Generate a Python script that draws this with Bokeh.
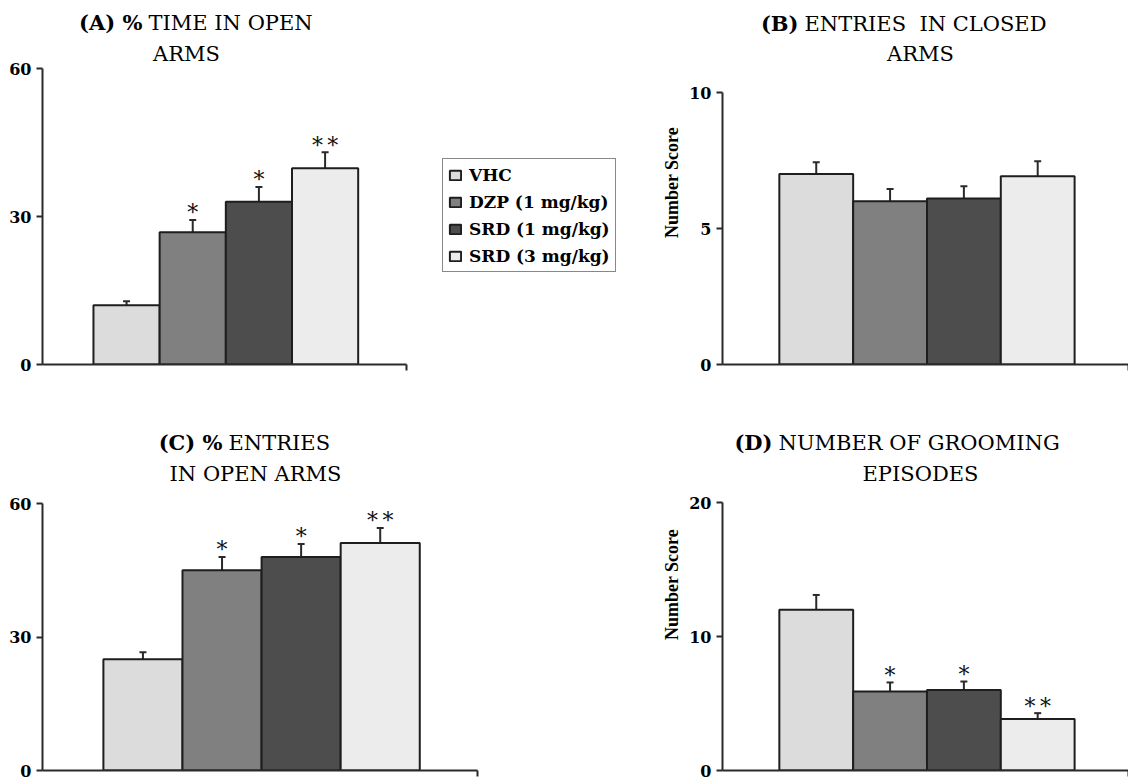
from bokeh.plotting import figure
from bokeh.models import ColumnDataSource, Range1d, FixedTicker, Whisker, TeeHead, Label
from bokeh.layouts import column, row
from bokeh.embed import file_html
from bokeh.resources import INLINE
from bokeh.core.properties import value

# ---------------- data ----------------
groups = ["VHC", "DZP (1 mg/kg)", "SRD (1 mg/kg)", "SRD (3 mg/kg)"]
colors = ["#dcdcdc", "#808080", "#4d4d4d", "#ececec"]
x_pos = [1, 2, 3, 4]

time_open_mean = [12.0, 26.8, 33.0, 39.8]
time_open_sem = [0.8, 2.5, 3.0, 3.2]
time_open_sig = ["", "*", "*", "**"]
time_open_ticks = [0, 30, 60]

closed_entries_mean = [7.0, 6.0, 6.1, 6.92]
closed_entries_sem = [0.44, 0.45, 0.45, 0.55]
closed_entries_sig = ["", "", "", ""]
closed_entries_ticks = [0, 5, 10]

open_entries_mean = [25.0, 45.0, 48.0, 51.1]
open_entries_sem = [1.6, 3.0, 2.9, 3.4]
open_entries_sig = ["", "*", "*", "**"]
open_entries_ticks = [0, 30, 60]

grooming_mean = [12.0, 5.9, 6.0, 3.85]
grooming_sem = [1.1, 0.67, 0.64, 0.43]
grooming_sig = ["", "*", "*", "**"]
grooming_ticks = [0, 10, 20]

TITLE_FONT = "DejaVu Serif"
TICK_FONT = "DejaVu Serif"
AXIS_COLOR = "#2a2a2a"
X_START, X_AXIS_END = -0.27, 5.23


def panel(width, height, left, bottom, axis_w, axis_h, means, sems, sigs, ticks,
          title_bold, title_rest, title_line2, junction, line2_center,
          base1, base2, ylabel=None, legend_loc=None):
    frame_w = width - left
    frame_h = height - bottom
    unit = axis_w / (X_AXIS_END - X_START)
    x_end = X_START + frame_w / unit
    y_end = ticks[-1] * frame_h / axis_h

    p = figure(width=width, height=height,
               x_range=Range1d(X_START, x_end), y_range=Range1d(ticks[0], y_end),
               output_backend="svg", toolbar_location=None,
               min_border_left=left, min_border_right=0,
               min_border_top=0, min_border_bottom=bottom)
    p.grid.visible = False
    p.outline_line_color = None
    p.background_fill_color = "white"
    p.border_fill_color = "white"

    src = ColumnDataSource(dict(
        x=x_pos, top=means,
        upper=[m + s for m, s in zip(means, sems)],
        sig=["\u2009".join(s) for s in sigs], color=colors, group=groups))

    kw = {}
    if legend_loc is not None:
        kw["legend_field"] = "group"
    p.vbar(x="x", top="top", bottom=0, width=1.0, source=src,
           fill_color="color", line_color="#1e1e1e", line_width=2, **kw)

    w = Whisker(base="x", lower="top", upper="upper", source=src,
                line_color=AXIS_COLOR, line_width=2, lower_head=None,
                upper_head=TeeHead(size=7, line_color=AXIS_COLOR, line_width=2))
    p.add_layout(w)

    p.text(x="x", y="upper", text="sig", source=src,
           text_align="center", text_baseline="alphabetic", y_offset=-7,
           text_font=value("DejaVu Serif"), text_font_size="22px",
           text_color="#111111")

    # y axis
    ya = p.yaxis[0]
    ya.ticker = FixedTicker(ticks=ticks)
    ya.bounds = (ticks[0], ticks[-1])
    ya.minor_tick_line_color = None
    ya.major_tick_in = 0
    ya.major_tick_out = 6
    ya.major_tick_line_width = 2
    ya.major_tick_line_color = AXIS_COLOR
    ya.axis_line_width = 2
    ya.axis_line_color = AXIS_COLOR
    ya.major_label_standoff = 5
    ya.major_label_text_font = TICK_FONT
    ya.major_label_text_font_style = "bold"
    ya.major_label_text_font_size = "16px"
    ya.major_label_text_color = "black"
    if ylabel:
        ya.axis_label = ylabel
        ya.axis_label_text_font = "Liberation Serif"
        ya.axis_label_text_font_style = "bold"
        ya.axis_label_text_font_size = "18px"
        ya.axis_label_text_color = "black"
        ya.axis_label_standoff = 4

    # x axis (line + end tick only)
    xa = p.xaxis[0]
    xa.ticker = FixedTicker(ticks=[X_AXIS_END])
    xa.bounds = (X_START, X_AXIS_END)
    xa.minor_tick_line_color = None
    xa.major_tick_in = 0
    xa.major_tick_out = 6
    xa.major_tick_line_width = 2
    xa.major_tick_line_color = AXIS_COLOR
    xa.axis_line_width = 2
    xa.axis_line_color = AXIS_COLOR
    xa.major_label_text_font_size = "1px"
    xa.major_label_text_color = None
    xa.major_label_standoff = 0

    # titles (frame-relative screen coordinates)
    p.add_layout(Label(x=junction, y=base1, x_units="screen", y_units="screen",
                       text=title_bold, text_align="right", text_baseline="alphabetic",
                       text_font=TITLE_FONT, text_font_style="bold",
                       text_font_size="21px", text_color="black"))
    p.add_layout(Label(x=junction + 6, y=base1, x_units="screen", y_units="screen",
                       text=title_rest, text_align="left", text_baseline="alphabetic",
                       text_font=TITLE_FONT, text_font_size="21px", text_color="black"))
    p.add_layout(Label(x=line2_center, y=base2, x_units="screen", y_units="screen",
                       text=title_line2, text_align="center", text_baseline="alphabetic",
                       text_font=TITLE_FONT, text_font_size="21px", text_color="black"))

    if legend_loc is not None:
        lg = p.legend[0]
        lg.location = legend_loc
        lg.label_text_font = "DejaVu Serif"
        lg.label_text_font_style = "bold"
        lg.label_text_font_size = "17px"
        lg.label_text_color = "black"
        lg.glyph_width = 14
        lg.glyph_height = 12
        lg.label_height = 21
        lg.label_standoff = 7
        lg.padding = 5
        lg.spacing = 6
        lg.margin = 0
        lg.border_line_color = "#111111"
        lg.border_line_width = 1.5
        lg.background_fill_color = "white"
        lg.background_fill_alpha = 1.0
    return p


pA = panel(620, 398, 42, 34, 364, 296, time_open_mean, time_open_sem, time_open_sig,
           time_open_ticks, "(A) %", "TIME IN OPEN", "ARMS", 100, 144, 342, 311,
           legend_loc=(400, 92))
pB = panel(508, 398, 102, 34, 406, 272, closed_entries_mean, closed_entries_sem,
           closed_entries_sig, closed_entries_ticks, "(B)", "ENTRIES\u00a0 IN CLOSED", "ARMS",
           76, 198, 341, 311, ylabel="Number Score")
pC = panel(620, 383, 42, 11, 435, 267, open_entries_mean, open_entries_sem,
           open_entries_sig, open_entries_ticks, "(C) %", "ENTRIES", "IN OPEN ARMS",
           180, 213, 328, 297)
pD = panel(508, 383, 102, 11, 406, 268, grooming_mean, grooming_sem, grooming_sig,
           grooming_ticks, "(D)", "NUMBER OF GROOMING", "EPISODES", 50, 198, 328, 297,
           ylabel="Number Score")

layout = column(row(pA, pB), row(pC, pD))
open("out.html", "w").write(file_html(layout, INLINE))
